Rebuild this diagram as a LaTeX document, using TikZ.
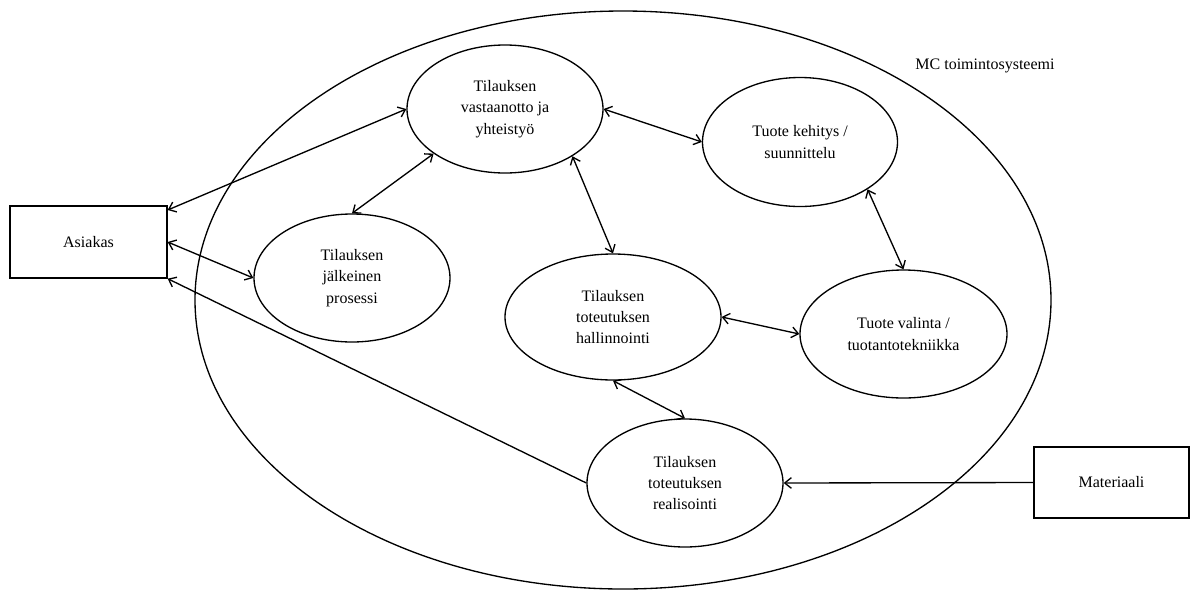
\documentclass[tikz,border=0pt]{standalone}
\usepackage{fontspec}
\setmainfont{Liberation Serif}
\usetikzlibrary{shapes.geometric,arrows.meta}

\begin{document}
\begin{tikzpicture}[x=0.75pt, y=-0.75pt, line width=1pt,
    >={Straight Barb[length=5pt,width=8pt]},
    every node/.style={font=\fontsize{12}{16}\selectfont, align=center},
    proc/.style={draw, ellipse, inner sep=0pt, minimum width=147pt, minimum height=96pt},
    party/.style={draw, rectangle, inner sep=0pt, minimum width=117.75pt, minimum height=54pt}]
    \useasboundingbox (0,0) rectangle (1190,590);
    % System boundary
    \node[draw, ellipse, inner sep=0pt, minimum width=642pt, minimum height=433.5pt] (sys) at (623,300) {};
    \node (syslabel) at (985,66) {MC toimintosysteemi};
    % Outside parties
    \node[party] (asiakas) at (88.5,242) {Asiakas};
    \node[party, minimum width=116.25pt, minimum height=53.25pt] (materiaali) at (1111.5,482.5) {Materiaali};
    % Processes
    \node[proc] (vast) at (505,109) {Tilauksen\\vastaanotto ja\\yhteistyö};
    \node[proc, minimum width=146.25pt, minimum height=96.75pt] (keh) at (800,142) {Tuote kehitys /\\suunnittelu};
    \node[proc] (jalk) at (352,278) {Tilauksen\\jälkeinen\\prosessi};
    \node[proc, minimum width=162pt, minimum height=94.5pt] (hall) at (613,317) {Tilauksen\\toteutuksen\\hallinnointi};
    \node[proc, minimum width=155.25pt] (val) at (903.5,334) {Tuote valinta /\\tuotantotekniikka};
    \node[proc] (real) at (685,483) {Tilauksen\\toteutuksen\\realisointi};
    % Arrows to and from the customer
    \draw[<->] (asiakas.22) -- (vast.west);
    \draw[<->] (asiakas.east) -- (jalk.west);
    \draw[->] (real.west) -- (asiakas.south east);
    % Arrows inside the system
    \draw[<->] (jalk.north) -- (vast.212);
    \draw[<->] (vast.-35) -- (hall.north);
    \draw[<->] (vast.east) -- (keh.west);
    \draw[<->] (keh.-35) -- (val.north);
    \draw[<->] (hall.east) -- (val.west);
    \draw[<->] (hall.south) -- (real.north);
    % Material supply
    \draw[->] (materiaali.west) -- (real.east);
\end{tikzpicture}
\end{document}
